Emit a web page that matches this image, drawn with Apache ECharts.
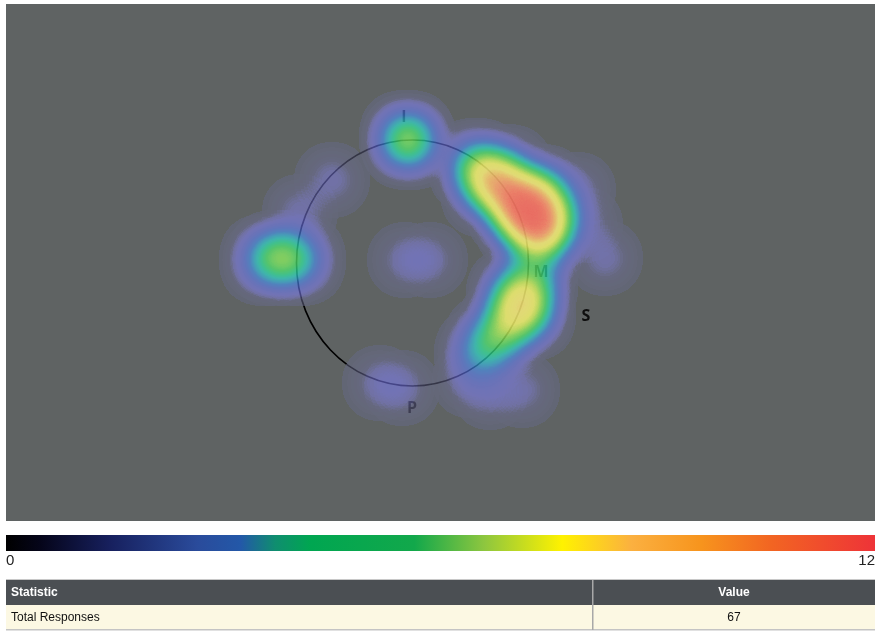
<!DOCTYPE html>
<html>
<head>
<meta charset="utf-8">
<script src="https://cdn.jsdelivr.net/npm/echarts@6/dist/echarts.min.js"></script>
<style>
  html, body { margin: 0; padding: 0; background: #ffffff; }
  #chart { width: 875px; height: 632px; }
</style>
</head>
<body>
<div id="chart"></div>
<script>
// Response locations on the field: x to the right, y upward (field units); weight = responses at that spot
const responseX = [259, 270, 282, 294, 294, 326,
                   401, 403,
                   470, 482, 494, 506, 518, 528, 536, 532, 516, 542, 508, 522, 499, 534, 546, 482,
                   529,
                   518, 510, 524, 499, 486, 474, 506, 524,
                   484, 516, 464, 374, 396, 399, 424, 599, 572, 579];
const responseY = [261, 263, 263, 261, 309, 341,
                   383, 379,
                   355, 345, 335, 325, 315, 305, 293, 281, 299, 315, 311, 331, 349, 329, 299, 331,
                   261,
                   221, 207, 235, 193, 179, 167, 227, 206,
                   129, 131, 141, 138, 133, 261, 261, 263, 331, 296];
const responseWeight = [4, 6, 6, 4, 1, 1,
                        7, 7,
                        8, 10, 10, 12, 12, 12, 12, 8, 10, 8, 8, 6, 6, 8, 8, 6,
                        5,
                        10, 9, 7, 8, 6, 4, 5, 5,
                        1, 1, 1, 1, 1, 1, 1, 1, 1, 1];

// Reference ring (center and radii, field units)
const ringCenter = [406.5, 258];
const ringRadii = [116, 123];

// Region markers
const markerNames = ['I', 'M', 'S', 'P'];
const markerX = [398, 535, 580, 406];
const markerY = [404, 249, 205, 113];

// Colour scale
const scaleMin = 0;
const scaleMax = 12;
const scaleTicks = ['0', '12'];

// Summary table
const statHeaders = ['Statistic', 'Value'];
const statNames = ['Total Responses'];
const statValues = [67];

const FIELD_W = 869, FIELD_H = 517;

echarts.registerMap('field', {
  type: 'FeatureCollection',
  features: [{
    type: 'Feature',
    properties: { name: 'field' },
    geometry: {
      type: 'Polygon',
      coordinates: [[[0, 0], [FIELD_W, 0], [FIELD_W, FIELD_H], [0, FIELD_H], [0, 0]]]
    }
  }]
});

const heatData = responseX.map((x, i) => [x, responseY[i], responseWeight[i]]);

// Heat overlay palette: stop position (accumulated intensity) -> colour
const heatStops = [
  [0.000, '#666a88'], [0.020, '#6e6e9c'], [0.035, '#8080e0'], [0.06, '#8482ff'],
  [0.10, '#7480ff'], [0.15, '#6084ff'], [0.21, '#4898fc'], [0.27, '#36c4ec'],
  [0.33, '#2ee4d4'], [0.39, '#30f0a4'], [0.46, '#50f070'], [0.55, '#90f660'],
  [0.63, '#d8fc60'], [0.70, '#ffff70'], [0.78, '#fff47a'], [0.84, '#ffc870'],
  [0.89, '#ffa070'], [0.93, '#ff8068'], [1.00, '#f45c5c']
];
function hexRgb(h) { return [1, 3, 5].map(k => parseInt(h.substr(k, 2), 16)); }
function samplePalette(stops, n) {
  const out = [];
  for (let i = 0; i < n; i++) {
    const t = i / (n - 1);
    let j = 0;
    while (j < stops.length - 2 && t > stops[j + 1][0]) j++;
    const a = stops[j], b = stops[j + 1];
    const f = Math.min(1, Math.max(0, (t - a[0]) / (b[0] - a[0])));
    const ca = hexRgb(a[1]), cb = hexRgb(b[1]);
    const c = ca.map((v, k) => Math.round(v + (cb[k] - v) * f));
    out.push('rgb(' + c.join(',') + ')');
  }
  return out;
}
const heatColors = samplePalette(heatStops, 201);

// Legend bar colours
const barStops = [
  [0, '#000000'], [0.04, '#05051a'], [0.12, '#17205e'], [0.22, '#2a4b9b'],
  [0.27, '#2358a8'], [0.31, '#0f8e6f'], [0.35, '#00a651'], [0.47, '#12a84b'],
  [0.55, '#8dc63f'], [0.64, '#fff200'], [0.72, '#fbb040'], [0.8, '#f7941d'],
  [0.88, '#f26522'], [1, '#ee3338']
];

const chart = echarts.init(document.getElementById('chart'), null, { renderer: 'canvas' });

const narrow = '"Liberation Sans Narrow", "Arial Narrow", "Liberation Sans", sans-serif';
const BAR_X = 6, BAR_Y = 535, BAR_W = 869, BAR_H = 16;
const TAB_X = 6, TAB_Y = 580, TAB_W = 869, ROW_H = 25, COL_SPLIT = 593;

const graphics = [];
graphics.push({
  type: 'rect', silent: true,
  shape: { x: BAR_X, y: BAR_Y, width: BAR_W, height: BAR_H },
  style: {
    fill: new echarts.graphic.LinearGradient(0, 0, 1, 0,
      barStops.map(s => ({ offset: s[0], color: s[1] })))
  }
});
graphics.push({
  type: 'text', silent: true, x: BAR_X, y: BAR_Y + BAR_H + 2,
  style: { text: scaleTicks[0], font: '15px ' + narrow, fill: '#222', align: 'left', verticalAlign: 'top' }
});
graphics.push({
  type: 'text', silent: true, x: BAR_X + BAR_W, y: BAR_Y + BAR_H + 2,
  style: { text: scaleTicks[1], font: '15px ' + narrow, fill: '#222', align: 'right', verticalAlign: 'top' }
});

// Summary table
graphics.push({ type: 'rect', silent: true, shape: { x: TAB_X, y: TAB_Y - 1, width: TAB_W, height: 1 }, style: { fill: '#c8c8c8' } });
graphics.push({ type: 'rect', silent: true, shape: { x: TAB_X, y: TAB_Y, width: TAB_W, height: ROW_H }, style: { fill: '#4b4f53' } });
statNames.forEach((name, i) => {
  const y = TAB_Y + ROW_H * (i + 1);
  graphics.push({ type: 'rect', silent: true, shape: { x: TAB_X, y: y, width: TAB_W, height: ROW_H }, style: { fill: '#fcf8e3' } });
  graphics.push({ type: 'rect', silent: true, shape: { x: TAB_X, y: y + ROW_H - 1, width: TAB_W, height: 1.5 }, style: { fill: '#c4c4c4' } });
  graphics.push({
    type: 'text', silent: true, x: TAB_X + 5, y: y + ROW_H / 2,
    style: { text: name, font: '12px ' + narrow, fill: '#111', align: 'left', verticalAlign: 'middle' }
  });
  graphics.push({
    type: 'text', silent: true, x: (COL_SPLIT + TAB_X + TAB_W) / 2, y: y + ROW_H / 2,
    style: { text: String(statValues[i]), font: '12px ' + narrow, fill: '#111', align: 'center', verticalAlign: 'middle' }
  });
});
graphics.push({
  type: 'text', silent: true, x: TAB_X + 5, y: TAB_Y + ROW_H / 2,
  style: { text: statHeaders[0], font: 'bold 12px ' + narrow, fill: '#ffffff', align: 'left', verticalAlign: 'middle' }
});
graphics.push({
  type: 'text', silent: true, x: (COL_SPLIT + TAB_X + TAB_W) / 2, y: TAB_Y + ROW_H / 2,
  style: { text: statHeaders[1], font: 'bold 12px ' + narrow, fill: '#ffffff', align: 'center', verticalAlign: 'middle' }
});
graphics.push({
  type: 'rect', silent: true,
  shape: { x: COL_SPLIT - 1, y: TAB_Y, width: 1.5, height: ROW_H * (statNames.length + 1) },
  style: { fill: '#a8a8a8' }
});

chart.setOption({
  animation: false,
  backgroundColor: '#ffffff',
  geo: {
    map: 'field',
    left: 6, top: 4, width: FIELD_W, height: FIELD_H,
    aspectScale: 1,
    roam: false,
    silent: true,
    label: { show: false },
    itemStyle: { areaColor: '#5f6363', borderWidth: 0 },
    emphasis: { disabled: true },
    select: { disabled: true }
  },
  visualMap: {
    type: 'continuous',
    show: false,
    min: scaleMin,
    max: scaleMax,
    seriesIndex: 0,
    inRange: { color: heatColors }
  },
  series: [
    {
      type: 'heatmap',
      coordinateSystem: 'geo',
      geoIndex: 0,
      data: heatData,
      pointSize: 18,
      blurSize: 30,
      minOpacity: 0.5,
      maxOpacity: 0.9,
      z: 5
    },
    {
      type: 'custom',
      coordinateSystem: 'geo',
      geoIndex: 0,
      silent: true,
      z: 2,
      data: [[ringCenter[0], ringCenter[1], ringRadii[0], ringRadii[1]]],
      renderItem: function (params, api) {
        const c = api.coord([api.value(0), api.value(1)]);
        const e = api.coord([api.value(0) + api.value(2), api.value(1) + api.value(3)]);
        return {
          type: 'ellipse',
          shape: { cx: c[0], cy: c[1], rx: Math.abs(e[0] - c[0]), ry: Math.abs(e[1] - c[1]) },
          style: { fill: 'none', stroke: '#000000', lineWidth: 1.6 }
        };
      }
    },
    {
      type: 'custom',
      coordinateSystem: 'geo',
      geoIndex: 0,
      silent: true,
      z: 2,
      data: markerNames.map((n, i) => ({ name: n, value: [markerX[i], markerY[i]] })),
      renderItem: function (params, api) {
        const p = api.coord([api.value(0), api.value(1)]);
        return {
          type: 'text',
          x: p[0], y: p[1],
          style: {
            text: markerNames[params.dataIndex],
            font: 'bold 16px "Open Sans", sans-serif',
            fill: '#0e0e0e',
            align: 'center',
            verticalAlign: 'middle'
          }
        };
      }
    }
  ],
  graphic: graphics
});
</script>
</body>
</html>
